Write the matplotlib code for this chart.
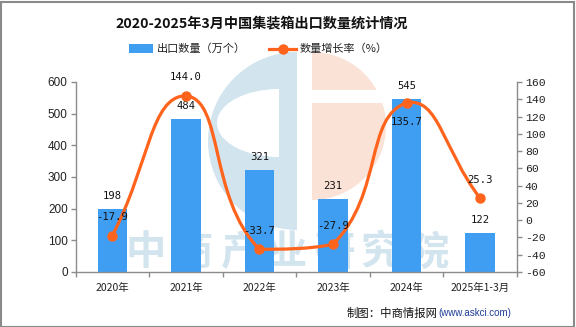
import numpy as np
import matplotlib
matplotlib.use("Agg")
import matplotlib.pyplot as plt
from matplotlib.path import Path
from matplotlib.patches import PathPatch, Rectangle, Wedge, Ellipse
from matplotlib.lines import Line2D

plt.rcParams['font.family'] = ['Noto Sans CJK SC', 'DejaVu Sans']

# ---- data ----
categories = ['2020年', '2021年', '2022年', '2023年', '2024年', '2025年1-3月']
export_qty = [198, 484, 321, 231, 545, 122]              # 万个
growth_rate = [-17.9, 144.0, -33.7, -27.9, 135.7, 25.3]  # %
left_ticks = [0, 100, 200, 300, 400, 500, 600]
right_ticks = [-60, -40, -20, 0, 20, 40, 60, 80, 100, 120, 140, 160]

BAR_C = '#409ef2'
LINE_C = '#ff631c'
AXIS_C = '#8c8c8c'
WM_BLUE = '#d2e4ee'
WM_ORANGE = '#fbe2d6'

W, H = 576, 327
fig = plt.figure(figsize=(W / 100, H / 100), dpi=100)
fig.patch.set_facecolor('white')
ftr = fig.transFigure


def fx(px):
    return px / W


def fy(py):
    return 1 - py / H


# ---- watermark logo and text, drawn in pixel space behind the plot ----
wm = fig.add_axes([0, 0, 1, 1], zorder=-5)
wm.set_xlim(0, W)
wm.set_ylim(H, 0)
wm.axis('off')
wm.add_patch(Wedge((297, 141), 89, 90, 270, color=WM_BLUE, lw=0))
wm.add_patch(Ellipse((279, 123), 124, 68, color='white', lw=0))
wm.add_patch(Rectangle((279, 52), 18, 158, color=WM_BLUE, lw=0))
wm.add_patch(Wedge((312, 126), 74, -90, 90, color=WM_ORANGE, lw=0))
wm.add_patch(Rectangle((311, 90), 80, 13, color='white', lw=0))
for i, ch in enumerate('中商产业研究院'):
    wm.text(146 + i * 47, 253, ch, ha='center', va='center', fontsize=29,
            fontweight='bold', color=WM_BLUE)

# ---- main axes ----
ax_left, ax_right, ax_top, ax_bot = 75.5, 517, 82, 272
ax = fig.add_axes([fx(ax_left), fy(ax_bot), fx(ax_right - ax_left),
                   (ax_bot - ax_top) / H])
ax.set_facecolor('none')
ax2 = ax.twinx()
ax2.set_facecolor('none')

x = np.arange(len(categories))
ax.bar(x, export_qty, width=0.4, color=BAR_C, zorder=2)
ax.set_xlim(-0.5, len(categories) - 0.5)
ax.set_ylim(0, 600)
ax2.set_ylim(-60, 160)

for a in (ax, ax2):
    for s in a.spines.values():
        s.set_color(AXIS_C)
        s.set_linewidth(1.0)
    a.spines['top'].set_visible(False)
ax.spines['right'].set_visible(False)
ax2.spines['left'].set_visible(False)
ax2.spines['bottom'].set_visible(False)

ax.set_yticks(left_ticks)
ax.set_yticklabels([str(v) for v in left_ticks], family='Liberation Sans',
                   fontsize=8.5)
ax.tick_params(axis='y', length=3.6, width=1.0, color=AXIS_C, pad=2,
               labelcolor='#222222')
ax2.set_yticks(right_ticks)
ax2.set_yticklabels([str(v) for v in right_ticks], family='Liberation Mono',
                    fontsize=8.2)
ax2.tick_params(axis='y', length=3.6, width=1.0, color=AXIS_C, pad=2,
                labelcolor='#222222')

ax.set_xticks(np.arange(len(categories) + 1) - 0.5)
ax.set_xticklabels([])
ax.set_xticks(x, minor=True)
ax.set_xticklabels(categories, minor=True, fontsize=7.5)
ax.tick_params(axis='x', which='major', length=3.5, width=1.0, color=AXIS_C)
ax.tick_params(axis='x', which='minor', length=0, pad=8, labelcolor='#222222')

# ---- smoothed growth line (bezier with bounding-box constraint) ----
pts = ax2.transData.transform(np.column_stack([x, growth_rate]))
smooth = 0.5
lo, hi = pts.min(axis=0), pts.max(axis=0)
cps = []
n = len(pts)
for i in range(n):
    p = pts[i]
    prev = pts[i - 1] if i > 0 else p
    nxt = pts[i + 1] if i < n - 1 else p
    v = (nxt - prev) * smooth
    d0 = np.hypot(*(p - prev))
    d1 = np.hypot(*(p - nxt))
    s = d0 + d1
    if s:
        d0, d1 = d0 / s, d1 / s
    c0 = np.clip(p - v * d0, lo, hi)
    c1 = np.clip(p + v * d1, lo, hi)
    cps.append((c0, c1))

verts = [pts[0]]
codes = [Path.MOVETO]
for i in range(n - 1):
    verts += [cps[i][1], cps[i + 1][0], pts[i + 1]]
    codes += [Path.CURVE4] * 3
verts = ax2.transData.inverted().transform(np.array(verts))
ax2.add_patch(PathPatch(Path(verts, codes), facecolor='none', edgecolor=LINE_C,
                        lw=2.3, zorder=3, capstyle='round'))
ax2.plot(x, growth_rate, 'o', color=LINE_C, ms=6.5, zorder=4)

# ---- value labels ----
lab_font = dict(family='DejaVu Sans Mono', fontsize=7.6, color='#111111')
for xi, v in zip(x, export_qty):
    ax.annotate(str(v), (xi, v), xytext=(0, 9.5), textcoords='offset points',
                ha='center', va='center', zorder=5, **lab_font)
below = {4}  # the 2024 rate label sits under its point
for xi, v in zip(x, growth_rate):
    dy = -13.8 if xi in below else 13.4
    ax2.annotate(f'{v:.1f}', (xi, v), xytext=(0, dy),
                 textcoords='offset points', ha='center', va='center',
                 zorder=5, **lab_font)

# ---- title ----
fig.text(fx(261.5), fy(23), '2020-2025年3月中国集装箱出口数量统计情况',
         ha='center', va='center', fontsize=10.2, fontweight='bold',
         color='#111111')

# ---- legend ----
fig.patches.append(Rectangle((fx(129), fy(52.5)), fx(24), 8 / H,
                             transform=ftr, color=BAR_C, lw=0))
fig.text(fx(157), fy(48.5), '出口数量（万个）', ha='left', va='center',
         fontsize=8, color='#222222')
fig.lines.append(Line2D([fx(269), fx(296)], [fy(49), fy(49)], transform=ftr,
                        color=LINE_C, lw=2.3))
fig.lines.append(Line2D([fx(282.5)], [fy(49)], transform=ftr, color=LINE_C,
                        marker='o', ms=6.5))
fig.text(fx(300), fy(48.5), '数量增长率（%）', ha='left', va='center',
         fontsize=8, color='#222222')

# ---- source note ----
fig.text(fx(438), fy(313), '制图：中商情报网', ha='right', va='center',
         fontsize=8.2, color='#111111')
fig.text(fx(438), fy(313), '(www.askci.com)', ha='left', va='center',
         fontsize=7, family='Liberation Sans', color='#1f3d99')

# ---- outer frame ----
fig.patches.append(Rectangle((0.5 / W, 0.5 / H), 1 - 2.5 / W, 1 - 2.5 / H,
                             transform=ftr, fill=False, edgecolor='#8a8a8a',
                             lw=1.5))

fig.savefig('out.png', dpi=100)
